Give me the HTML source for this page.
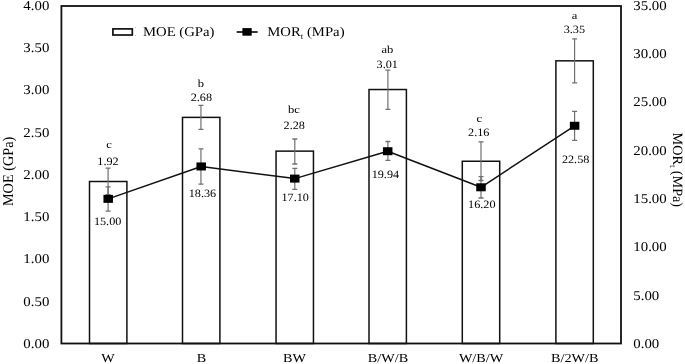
<!DOCTYPE html>
<html><head><meta charset="utf-8"><style>
html,body{margin:0;padding:0;background:#fff;}
svg{display:block;filter:blur(0.3px);}
text{font-family:"Liberation Serif",serif;fill:#000;stroke:none;text-rendering:geometricPrecision;}
</style></head><body>
<svg width="685" height="364" viewBox="0 0 685 364">
<rect x="89.50" y="181.50" width="37.4" height="162.00" fill="#fff" stroke="#111" stroke-width="1.5"/>
<rect x="182.50" y="117.38" width="37.4" height="226.12" fill="#fff" stroke="#111" stroke-width="1.5"/>
<rect x="276.05" y="151.13" width="37.4" height="192.37" fill="#fff" stroke="#111" stroke-width="1.5"/>
<rect x="369.00" y="89.53" width="37.4" height="253.97" fill="#fff" stroke="#111" stroke-width="1.5"/>
<rect x="462.30" y="161.25" width="37.4" height="182.25" fill="#fff" stroke="#111" stroke-width="1.5"/>
<rect x="555.90" y="60.84" width="37.4" height="282.66" fill="#fff" stroke="#111" stroke-width="1.5"/>
<path d="M108.10 168.20V194.60" stroke="#6a6a6a" stroke-width="1.15" fill="none"/>
<path d="M105.60 168.20H110.60M105.60 194.60H110.60" stroke="#707070" stroke-width="1.3" fill="none"/>
<path d="M200.95 105.30V129.30" stroke="#6a6a6a" stroke-width="1.15" fill="none"/>
<path d="M198.45 105.30H203.45M198.45 129.30H203.45" stroke="#707070" stroke-width="1.3" fill="none"/>
<path d="M294.80 139.00V164.00" stroke="#6a6a6a" stroke-width="1.15" fill="none"/>
<path d="M292.30 139.00H297.30M292.30 164.00H297.30" stroke="#707070" stroke-width="1.3" fill="none"/>
<path d="M387.90 70.20V109.40" stroke="#6a6a6a" stroke-width="1.15" fill="none"/>
<path d="M385.40 70.20H390.40M385.40 109.40H390.40" stroke="#707070" stroke-width="1.3" fill="none"/>
<path d="M481.00 141.80V180.50" stroke="#6a6a6a" stroke-width="1.15" fill="none"/>
<path d="M478.50 141.80H483.50M478.50 180.50H483.50" stroke="#707070" stroke-width="1.3" fill="none"/>
<path d="M574.60 38.80V82.80" stroke="#6a6a6a" stroke-width="1.15" fill="none"/>
<path d="M572.10 38.80H577.10M572.10 82.80H577.10" stroke="#707070" stroke-width="1.3" fill="none"/>
<path d="M108.10 186.80V211.10" stroke="#6a6a6a" stroke-width="1.15" fill="none"/>
<path d="M105.60 186.80H110.60M105.60 211.10H110.60" stroke="#707070" stroke-width="1.3" fill="none"/>
<path d="M200.95 148.80V184.20" stroke="#6a6a6a" stroke-width="1.15" fill="none"/>
<path d="M198.45 148.80H203.45M198.45 184.20H203.45" stroke="#707070" stroke-width="1.3" fill="none"/>
<path d="M294.80 168.30V189.30" stroke="#6a6a6a" stroke-width="1.15" fill="none"/>
<path d="M292.30 168.30H297.30M292.30 189.30H297.30" stroke="#707070" stroke-width="1.3" fill="none"/>
<path d="M387.90 141.50V160.40" stroke="#6a6a6a" stroke-width="1.15" fill="none"/>
<path d="M385.40 141.50H390.40M385.40 160.40H390.40" stroke="#707070" stroke-width="1.3" fill="none"/>
<path d="M481.00 176.70V198.00" stroke="#6a6a6a" stroke-width="1.15" fill="none"/>
<path d="M478.50 176.70H483.50M478.50 198.00H483.50" stroke="#707070" stroke-width="1.3" fill="none"/>
<path d="M574.60 111.30V140.40" stroke="#6a6a6a" stroke-width="1.15" fill="none"/>
<path d="M572.10 111.30H577.10M572.10 140.40H577.10" stroke="#707070" stroke-width="1.3" fill="none"/>
<polyline points="108.20,198.86 201.20,166.46 294.75,178.61 387.70,151.22 481.00,187.29 574.60,125.76" fill="none" stroke="#111" stroke-width="1.5" stroke-linejoin="round"/>
<rect x="103.45" y="194.86" width="9.5" height="8.0" fill="#000"/>
<rect x="196.45" y="162.46" width="9.5" height="8.0" fill="#000"/>
<rect x="290.00" y="174.61" width="9.5" height="8.0" fill="#000"/>
<rect x="382.95" y="147.22" width="9.5" height="8.0" fill="#000"/>
<rect x="476.25" y="183.29" width="9.5" height="8.0" fill="#000"/>
<rect x="569.85" y="121.76" width="9.5" height="8.0" fill="#000"/>
<rect x="61.4" y="6.0" width="559.60" height="337.50" fill="none" stroke="#111" stroke-width="1.8"/>
<text transform="translate(106.23,148.28) scale(1.16,1)" font-size="10.8">c</text>
<text transform="translate(97.33,164.79) scale(1.09,1)" font-size="11.2">1.92</text>
<text transform="translate(93.91,225.29) scale(1.09,1)" font-size="11.2">15.00</text>
<text transform="translate(197.67,86.82) scale(1.16,1)" font-size="10.8">b</text>
<text transform="translate(190.72,100.99) scale(1.09,1)" font-size="11.2">2.68</text>
<text transform="translate(188.70,196.84) scale(1.09,1)" font-size="11.2">18.36</text>
<text transform="translate(287.90,112.82) scale(1.16,1)" font-size="10.8">bc</text>
<text transform="translate(283.62,128.74) scale(1.09,1)" font-size="11.2">2.28</text>
<text transform="translate(281.51,200.94) scale(1.09,1)" font-size="11.2">17.10</text>
<text transform="translate(381.45,53.27) scale(1.16,1)" font-size="10.8">ab</text>
<text transform="translate(376.58,67.59) scale(1.09,1)" font-size="11.2">3.01</text>
<text transform="translate(371.64,178.09) scale(1.09,1)" font-size="11.2">19.94</text>
<text transform="translate(476.38,122.38) scale(1.16,1)" font-size="10.8">c</text>
<text transform="translate(468.06,135.89) scale(1.09,1)" font-size="11.2">2.16</text>
<text transform="translate(468.11,207.89) scale(1.09,1)" font-size="11.2">16.20</text>
<text transform="translate(571.86,18.83) scale(1.16,1)" font-size="10.8">a</text>
<text transform="translate(563.66,33.04) scale(1.09,1)" font-size="11.2">3.35</text>
<text transform="translate(561.92,162.94) scale(1.09,1)" font-size="11.2">22.58</text>
<text transform="translate(23.36,347.94) scale(1.1,1)" font-size="13.5">0.00</text>
<text transform="translate(23.36,305.68) scale(1.1,1)" font-size="13.5">0.50</text>
<text transform="translate(23.36,263.41) scale(1.1,1)" font-size="13.5">1.00</text>
<text transform="translate(23.36,221.15) scale(1.1,1)" font-size="13.5">1.50</text>
<text transform="translate(23.36,178.89) scale(1.1,1)" font-size="13.5">2.00</text>
<text transform="translate(23.36,136.62) scale(1.1,1)" font-size="13.5">2.50</text>
<text transform="translate(23.36,94.36) scale(1.1,1)" font-size="13.5">3.00</text>
<text transform="translate(23.36,52.10) scale(1.1,1)" font-size="13.5">3.50</text>
<text transform="translate(23.36,9.84) scale(1.1,1)" font-size="13.5">4.00</text>
<text transform="translate(633.31,347.84) scale(1.1,1)" font-size="13.5">0.00</text>
<text transform="translate(633.31,299.54) scale(1.1,1)" font-size="13.5">5.00</text>
<text transform="translate(633.31,251.24) scale(1.1,1)" font-size="13.5">10.00</text>
<text transform="translate(633.31,202.94) scale(1.1,1)" font-size="13.5">15.00</text>
<text transform="translate(633.31,154.64) scale(1.1,1)" font-size="13.5">20.00</text>
<text transform="translate(633.31,106.34) scale(1.1,1)" font-size="13.5">25.00</text>
<text transform="translate(633.31,58.04) scale(1.1,1)" font-size="13.5">30.00</text>
<text transform="translate(633.31,9.74) scale(1.1,1)" font-size="13.5">35.00</text>
<text transform="translate(101.19,361.55) scale(1.17,1)" font-size="12.2">W</text>
<text transform="translate(196.66,361.61) scale(1.17,1)" font-size="12.2">B</text>
<text transform="translate(282.90,361.55) scale(1.17,1)" font-size="12.2">BW</text>
<text transform="translate(367.77,361.61) scale(1.17,1)" font-size="12.2">B/W/B</text>
<text transform="translate(458.90,361.61) scale(1.17,1)" font-size="12.2">W/B/W</text>
<text transform="translate(551.01,361.61) scale(1.17,1)" font-size="12.2">B/2W/B</text>
<text transform="translate(13.20,206.06) rotate(-90) scale(0.95,1)" font-size="15.0">MOE (GPa)</text>
<text transform="translate(672.8,132.6) rotate(90)" font-size="14.2">MOR<tspan font-size="9" dy="3.2">t</tspan><tspan dy="-3.2" dx="3.4">(MPa)</tspan></text>
<rect x="112.9" y="28.9" width="19.4" height="6.1" fill="#fff" stroke="#111" stroke-width="1.7"/>
<circle cx="135.4" cy="27.6" r="0.45" fill="#666"/><circle cx="135.4" cy="35.4" r="0.45" fill="#666"/>
<text transform="translate(142.97,35.84) scale(1.09,1)" font-size="13.5">MOE (GPa)</text>
<path d="M236.7 32H257.7" stroke="#111" stroke-width="1.7"/>
<rect x="242.4" y="28.1" width="9.3" height="7.6" fill="#000"/>
<text transform="translate(267.26,35.6) scale(1.09,1)" font-size="13.5">MOR<tspan font-size="8.4" dy="3.5">t</tspan><tspan dy="-3.5" dx="3.3">(MPa)</tspan></text>
</svg>
</body></html>
